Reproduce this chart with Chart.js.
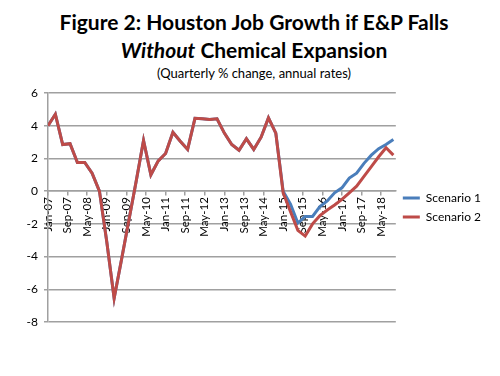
<!DOCTYPE html>
<html>
<head>
<meta charset="utf-8">
<script src="https://cdn.jsdelivr.net/npm/chart.js@4"></script>
<style>
  body { margin: 0; background: #fff; }
  #wrap { position: relative; width: 500px; height: 376px; font-family: Lato, "Open Sans", sans-serif; color: #000; }
  .titulo { position: absolute; left: 4px; width: 500px; text-align: center; font-weight: bold; font-size: 21px; line-height: 22px; }
  .sub { position: absolute; left: 4px; width: 500px; text-align: center; font-size: 13px; line-height: 14px; top: 66px; }
  canvas { position: absolute; left: 0; top: 0; }
</style>
</head>
<body>
<div id="wrap">
  <div class="titulo" style="top:11px">Figure 2: Houston Job Growth if E&amp;P Falls</div>
  <div class="titulo" style="top:39px"><i>Without</i> Chemical Expansion</div>
  <div class="sub">(Quarterly % change, annual rates)</div>
  <canvas id="grafico" width="500" height="376"></canvas>
</div>
<script>
// quarters Jan-07 .. Oct-18 (one point every 3 months)
const quarters = [
  "Jan-07","Apr-07","Jul-07","Oct-07","Jan-08","Apr-08","Jul-08","Oct-08",
  "Jan-09","Apr-09","Jul-09","Oct-09","Jan-10","Apr-10","Jul-10","Oct-10",
  "Jan-11","Apr-11","Jul-11","Oct-11","Jan-12","Apr-12","Jul-12","Oct-12",
  "Jan-13","Apr-13","Jul-13","Oct-13","Jan-14","Apr-14","Jul-14","Oct-14",
  "Jan-15","Apr-15","Jul-15","Oct-15","Jan-16","Apr-16","Jul-16","Oct-16",
  "Jan-17","Apr-17","Jul-17","Oct-17","Jan-18","Apr-18","Jul-18","Oct-18"
];

const scenario1 = [
  4.0, 4.7, 2.85, 2.9, 1.75, 1.75, 1.1, 0.0,
  -3.1, -6.55, -4.2, -1.8, 0.6, 3.1, 1.0, 1.85,
  2.3, 3.6, 3.05, 2.55, 4.45, 4.42, 4.38, 4.42,
  3.55, 2.85, 2.5, 3.2, 2.55, 3.3, 4.48, 3.55,
  0.0, -0.8, -1.95, -1.55, -1.55, -0.95, -0.6, -0.1,
  0.2, 0.8, 1.1, 1.7, 2.2, 2.6, 2.85, 3.15
];

const scenario2 = [
  4.0, 4.7, 2.85, 2.9, 1.75, 1.75, 1.1, 0.0,
  -3.1, -6.55, -4.2, -1.8, 0.6, 3.1, 1.0, 1.85,
  2.3, 3.6, 3.05, 2.55, 4.45, 4.42, 4.38, 4.42,
  3.55, 2.85, 2.5, 3.2, 2.55, 3.3, 4.48, 3.55,
  -0.1, -1.25, -2.4, -2.75, -2.0, -1.5, -1.15, -0.85,
  -0.5, -0.1, 0.3, 0.9, 1.5, 2.1, 2.65, 2.2
];

// axis labels, one every 8 months
const tickLabels = [
  "Jan-07","Sep-07","May-08","Jan-09","Sep-09","May-10","Jan-11","Sep-11","May-12",
  "Jan-13","Sep-13","May-14","Jan-15","Sep-15","May-16","Jan-17","Sep-17","May-18"
];

// x = months since Jan-07
const pontos = serie => serie.map((v, i) => ({ x: i * 3, y: v }));

const fonte = { family: 'Lato', size: 12 };
const cinza = '#a0a0a0';

new Chart(document.getElementById('grafico').getContext('2d'), {
  type: 'line',
  data: {
    datasets: [
      { label: 'Scenario 1', data: pontos(scenario1), borderColor: '#4a7ebb', backgroundColor: '#4a7ebb', borderWidth: 3, pointRadius: 0, tension: 0, order: 1 },
      { label: 'Scenario 2', data: pontos(scenario2), borderColor: '#be4b48', backgroundColor: '#be4b48', borderWidth: 3, pointRadius: 0, tension: 0, order: 0 }
    ]
  },
  options: {
    responsive: false,
    animation: false,
    layout: { padding: { left: 8, right: 9, top: 93, bottom: 54 } },
    plugins: {
      title: { display: false },
      tooltip: { enabled: false },
      legend: {
        position: 'right',
        labels: {
          usePointStyle: true, pointStyle: 'line', pointStyleWidth: 17, padding: 7, color: '#000', font: fonte,
          sort: (a, b) => a.datasetIndex - b.datasetIndex
        }
      }
    },
    scales: {
      x: {
        type: 'linear', min: 0, max: 142, position: { y: 0 },
        grid: { drawOnChartArea: false, tickLength: 4, color: cinza, lineWidth: 1.5 },
        border: { color: cinza, width: 1.5 },
        ticks: {
          stepSize: 8, includeBounds: false, autoSkip: false,
          minRotation: 90, maxRotation: 90, padding: 2, color: '#000', font: { family: 'Lato', size: 11.5 },
          callback: v => tickLabels[v / 8] ?? ''
        }
      },
      y: {
        min: -8, max: 6,
        afterFit: scale => { scale.width = 40; },
        grid: { tickLength: 4, color: cinza, lineWidth: 1.5 },
        border: { color: cinza, width: 1.5 },
        ticks: { stepSize: 2, padding: 6, color: '#000', font: fonte }
      }
    }
  }
});
</script>
</body>
</html>
